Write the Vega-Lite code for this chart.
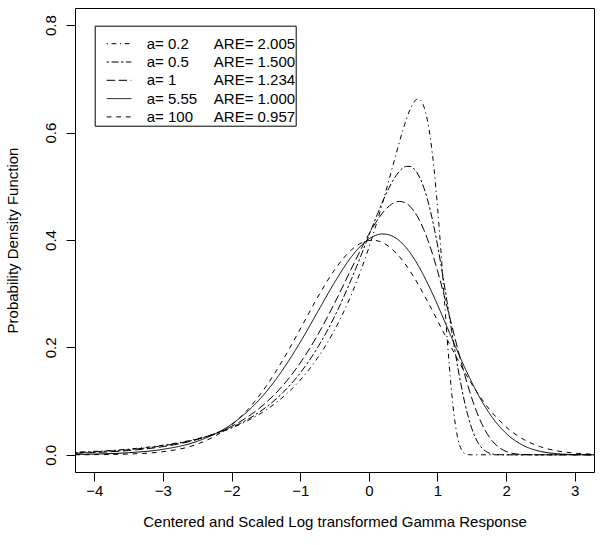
{
  "$schema": "https://vega.github.io/schema/vega-lite/v6.json",
  "width": 519,
  "height": 464,
  "autosize": {"type": "none"},
  "padding": {"left": 75, "top": 8, "right": 6, "bottom": 73},
  "background": "white",
  "config": {
    "view": {"stroke": "black", "strokeWidth": 1},
    "font": "Liberation Sans",
    "axis": {"grid": false, "domain": false, "tickColor": "black", "tickWidth": 1, "tickSize": 9, "labelColor": "black", "labelFontSize": 15, "titleColor": "black", "titleFontSize": 15, "titleFontWeight": "normal", "labelFlush": false, "labelOverlap": false}
  },
  "data": {
    "values": [
      {"a": "0.2", "x": -4.28, "y": 0.0048}, {"a": "0.2", "x": -4, "y": 0.0064}, {"a": "0.2", "x": -3.5, "y": 0.0107}, {"a": "0.2", "x": -3, "y": 0.0179}, {"a": "0.2", "x": -2.5, "y": 0.0299}, {"a": "0.2", "x": -2, "y": 0.0499}, {"a": "0.2", "x": -1.75, "y": 0.0645}, {"a": "0.2", "x": -1.5, "y": 0.0833}, {"a": "0.2", "x": -1.25, "y": 0.1076}, {"a": "0.2", "x": -1, "y": 0.1391}, {"a": "0.2", "x": -0.75, "y": 0.1797}, {"a": "0.2", "x": -0.5, "y": 0.2321}, {"a": "0.2", "x": -0.25, "y": 0.2996}, {"a": "0.2", "x": 0, "y": 0.3857}, {"a": "0.2", "x": 0.1, "y": 0.4258}, {"a": "0.2", "x": 0.2, "y": 0.4692}, {"a": "0.2", "x": 0.3, "y": 0.5149}, {"a": "0.2", "x": 0.4, "y": 0.5616}, {"a": "0.2", "x": 0.5, "y": 0.6061}, {"a": "0.2", "x": 0.6, "y": 0.6428}, {"a": "0.2", "x": 0.65, "y": 0.6553}, {"a": "0.2", "x": 0.7, "y": 0.6619}, {"a": "0.2", "x": 0.75, "y": 0.6606}, {"a": "0.2", "x": 0.8, "y": 0.6491}, {"a": "0.2", "x": 0.85, "y": 0.6251}, {"a": "0.2", "x": 0.9, "y": 0.5865}, {"a": "0.2", "x": 0.95, "y": 0.5322}, {"a": "0.2", "x": 1.0, "y": 0.4624}, {"a": "0.2", "x": 1.05, "y": 0.3798}, {"a": "0.2", "x": 1.1, "y": 0.2902}, {"a": "0.2", "x": 1.15, "y": 0.2020}, {"a": "0.2", "x": 1.2, "y": 0.1245}, {"a": "0.2", "x": 1.25, "y": 0.0657}, {"a": "0.2", "x": 1.3, "y": 0.0283}, {"a": "0.2", "x": 1.35, "y": 0.0094}, {"a": "0.2", "x": 1.4, "y": 0.0022}, {"a": "0.2", "x": 1.45, "y": 0.0003}, {"a": "0.2", "x": 1.5, "y": 0.0}, {"a": "0.2", "x": 1.6, "y": 0.0}, {"a": "0.2", "x": 2.0, "y": 0.0}, {"a": "0.2", "x": 2.5, "y": 0.0}, {"a": "0.2", "x": 3.0, "y": 0.0}, {"a": "0.2", "x": 3.28, "y": 0.0},

      {"a": "0.5", "x": -4.28, "y": 0.0040}, {"a": "0.5", "x": -4, "y": 0.0055}, {"a": "0.5", "x": -3.5, "y": 0.0096}, {"a": "0.5", "x": -3, "y": 0.0168}, {"a": "0.5", "x": -2.5, "y": 0.0292}, {"a": "0.5", "x": -2, "y": 0.0508}, {"a": "0.5", "x": -1.75, "y": 0.0670}, {"a": "0.5", "x": -1.5, "y": 0.0883}, {"a": "0.5", "x": -1.25, "y": 0.1161}, {"a": "0.5", "x": -1, "y": 0.1523}, {"a": "0.5", "x": -0.75, "y": 0.1988}, {"a": "0.5", "x": -0.5, "y": 0.2573}, {"a": "0.5", "x": -0.25, "y": 0.3282}, {"a": "0.5", "x": 0, "y": 0.4081}, {"a": "0.5", "x": 0.1, "y": 0.4404}, {"a": "0.5", "x": 0.2, "y": 0.4711}, {"a": "0.5", "x": 0.3, "y": 0.4985}, {"a": "0.5", "x": 0.4, "y": 0.5205}, {"a": "0.5", "x": 0.5, "y": 0.5343}, {"a": "0.5", "x": 0.55, "y": 0.5372}, {"a": "0.5", "x": 0.6, "y": 0.5370}, {"a": "0.5", "x": 0.7, "y": 0.5257}, {"a": "0.5", "x": 0.8, "y": 0.4979}, {"a": "0.5", "x": 0.9, "y": 0.4526}, {"a": "0.5", "x": 1.0, "y": 0.3908}, {"a": "0.5", "x": 1.1, "y": 0.3165}, {"a": "0.5", "x": 1.2, "y": 0.2366}, {"a": "0.5", "x": 1.3, "y": 0.1600}, {"a": "0.5", "x": 1.4, "y": 0.0955}, {"a": "0.5", "x": 1.5, "y": 0.0488}, {"a": "0.5", "x": 1.6, "y": 0.0205}, {"a": "0.5", "x": 1.7, "y": 0.0068}, {"a": "0.5", "x": 1.8, "y": 0.0016}, {"a": "0.5", "x": 1.9, "y": 0.0003}, {"a": "0.5", "x": 2.0, "y": 0.0}, {"a": "0.5", "x": 2.5, "y": 0.0}, {"a": "0.5", "x": 3.0, "y": 0.0}, {"a": "0.5", "x": 3.28, "y": 0.0},

      {"a": "1", "x": -4.28, "y": 0.0030}, {"a": "1", "x": -4, "y": 0.0042}, {"a": "1", "x": -3.5, "y": 0.0080}, {"a": "1", "x": -3, "y": 0.0152}, {"a": "1", "x": -2.5, "y": 0.0285}, {"a": "1", "x": -2, "y": 0.0530}, {"a": "1", "x": -1.75, "y": 0.0719}, {"a": "1", "x": -1.5, "y": 0.0969}, {"a": "1", "x": -1.25, "y": 0.1294}, {"a": "1", "x": -1, "y": 0.1709}, {"a": "1", "x": -0.75, "y": 0.2221}, {"a": "1", "x": -0.5, "y": 0.2821}, {"a": "1", "x": -0.25, "y": 0.3477}, {"a": "1", "x": 0, "y": 0.4107}, {"a": "1", "x": 0.1, "y": 0.4324}, {"a": "1", "x": 0.2, "y": 0.4505}, {"a": "1", "x": 0.3, "y": 0.4637}, {"a": "1", "x": 0.4, "y": 0.4709}, {"a": "1", "x": 0.45, "y": 0.4718}, {"a": "1", "x": 0.5, "y": 0.4708}, {"a": "1", "x": 0.6, "y": 0.4626}, {"a": "1", "x": 0.7, "y": 0.4455}, {"a": "1", "x": 0.8, "y": 0.4195}, {"a": "1", "x": 0.9, "y": 0.3849}, {"a": "1", "x": 1.0, "y": 0.3429}, {"a": "1", "x": 1.1, "y": 0.2955}, {"a": "1", "x": 1.2, "y": 0.2452}, {"a": "1", "x": 1.3, "y": 0.1948}, {"a": "1", "x": 1.4, "y": 0.1474}, {"a": "1", "x": 1.5, "y": 0.1055}, {"a": "1", "x": 1.6, "y": 0.0709}, {"a": "1", "x": 1.7, "y": 0.0443}, {"a": "1", "x": 1.8, "y": 0.0255}, {"a": "1", "x": 1.9, "y": 0.0134}, {"a": "1", "x": 2.0, "y": 0.0063}, {"a": "1", "x": 2.1, "y": 0.0026}, {"a": "1", "x": 2.25, "y": 0.0006}, {"a": "1", "x": 2.5, "y": 0.0}, {"a": "1", "x": 3.0, "y": 0.0}, {"a": "1", "x": 3.28, "y": 0.0},

      {"a": "5.55", "x": -4.28, "y": 0.0008}, {"a": "5.55", "x": -4, "y": 0.0014}, {"a": "5.55", "x": -3.5, "y": 0.0039}, {"a": "5.55", "x": -3, "y": 0.0102}, {"a": "5.55", "x": -2.5, "y": 0.0251}, {"a": "5.55", "x": -2, "y": 0.0570}, {"a": "5.55", "x": -1.75, "y": 0.0827}, {"a": "5.55", "x": -1.5, "y": 0.1165}, {"a": "5.55", "x": -1.25, "y": 0.1591}, {"a": "5.55", "x": -1, "y": 0.2095}, {"a": "5.55", "x": -0.75, "y": 0.2652}, {"a": "5.55", "x": -0.5, "y": 0.3208}, {"a": "5.55", "x": -0.25, "y": 0.3693}, {"a": "5.55", "x": 0, "y": 0.4019}, {"a": "5.55", "x": 0.1, "y": 0.4087}, {"a": "5.55", "x": 0.2, "y": 0.4113}, {"a": "5.55", "x": 0.3, "y": 0.4094}, {"a": "5.55", "x": 0.4, "y": 0.4030}, {"a": "5.55", "x": 0.5, "y": 0.3919}, {"a": "5.55", "x": 0.6, "y": 0.3764}, {"a": "5.55", "x": 0.7, "y": 0.3568}, {"a": "5.55", "x": 0.8, "y": 0.3336}, {"a": "5.55", "x": 0.9, "y": 0.3076}, {"a": "5.55", "x": 1.0, "y": 0.2794}, {"a": "5.55", "x": 1.1, "y": 0.2498}, {"a": "5.55", "x": 1.2, "y": 0.2198}, {"a": "5.55", "x": 1.3, "y": 0.1901}, {"a": "5.55", "x": 1.4, "y": 0.1616}, {"a": "5.55", "x": 1.5, "y": 0.1348}, {"a": "5.55", "x": 1.6, "y": 0.1102}, {"a": "5.55", "x": 1.7, "y": 0.0884}, {"a": "5.55", "x": 1.8, "y": 0.0693}, {"a": "5.55", "x": 2.0, "y": 0.0399}, {"a": "5.55", "x": 2.25, "y": 0.0174}, {"a": "5.55", "x": 2.5, "y": 0.0064}, {"a": "5.55", "x": 2.75, "y": 0.0020}, {"a": "5.55", "x": 3.0, "y": 0.0005}, {"a": "5.55", "x": 3.28, "y": 0.0001},

      {"a": "100", "x": -4.28, "y": 0.0001}, {"a": "100", "x": -4, "y": 0.0003}, {"a": "100", "x": -3.5, "y": 0.0014}, {"a": "100", "x": -3, "y": 0.0058}, {"a": "100", "x": -2.5, "y": 0.0198}, {"a": "100", "x": -2, "y": 0.0555}, {"a": "100", "x": -1.75, "y": 0.0862}, {"a": "100", "x": -1.5, "y": 0.1269}, {"a": "100", "x": -1.25, "y": 0.1771}, {"a": "100", "x": -1, "y": 0.2340}, {"a": "100", "x": -0.75, "y": 0.2922}, {"a": "100", "x": -0.5, "y": 0.3442}, {"a": "100", "x": -0.25, "y": 0.3821}, {"a": "100", "x": -0.1, "y": 0.3951}, {"a": "100", "x": 0, "y": 0.3991}, {"a": "100", "x": 0.05, "y": 0.3996}, {"a": "100", "x": 0.1, "y": 0.3991}, {"a": "100", "x": 0.2, "y": 0.3951}, {"a": "100", "x": 0.3, "y": 0.3871}, {"a": "100", "x": 0.4, "y": 0.3755}, {"a": "100", "x": 0.5, "y": 0.3604}, {"a": "100", "x": 0.6, "y": 0.3423}, {"a": "100", "x": 0.7, "y": 0.3216}, {"a": "100", "x": 0.8, "y": 0.2990}, {"a": "100", "x": 0.9, "y": 0.2750}, {"a": "100", "x": 1.0, "y": 0.2502}, {"a": "100", "x": 1.1, "y": 0.2251}, {"a": "100", "x": 1.2, "y": 0.2003}, {"a": "100", "x": 1.3, "y": 0.1762}, {"a": "100", "x": 1.4, "y": 0.1532}, {"a": "100", "x": 1.5, "y": 0.1317}, {"a": "100", "x": 1.6, "y": 0.1120}, {"a": "100", "x": 1.7, "y": 0.0940}, {"a": "100", "x": 1.8, "y": 0.0781}, {"a": "100", "x": 2.0, "y": 0.0519}, {"a": "100", "x": 2.25, "y": 0.0291}, {"a": "100", "x": 2.5, "y": 0.0150}, {"a": "100", "x": 2.75, "y": 0.0072}, {"a": "100", "x": 3.0, "y": 0.0032}, {"a": "100", "x": 3.28, "y": 0.0011}
    ]
  },
  "mark": {"type": "line", "interpolate": "monotone", "color": "black", "strokeWidth": 1, "clip": true},
  "encoding": {
    "x": {
      "field": "x", "type": "quantitative",
      "scale": {"domain": [-4.28, 3.28], "nice": false, "zero": false},
      "axis": {"values": [-4, -3, -2, -1, 0, 1, 2, 3], "labelBaseline": "alphabetic", "labelPadding": 14, "title": "Centered and Scaled Log transformed Gamma Response", "titleBaseline": "alphabetic", "titleY": 54}
    },
    "y": {
      "field": "y", "type": "quantitative",
      "scale": {"domain": [-0.032, 0.832], "nice": false, "zero": false},
      "axis": {"values": [0, 0.2, 0.4, 0.6, 0.8], "format": ".1f", "labelAngle": 270, "labelAlign": "center", "labelBaseline": "alphabetic", "labelPadding": 11, "title": "Probability Density Function", "titleAngle": 270, "titleAlign": "center", "titleBaseline": "alphabetic", "titleX": -58, "titleY": 232}
    },
    "strokeDash": {
      "field": "a", "type": "nominal",
      "scale": {"domain": ["0.2", "0.5", "1", "5.55", "100"], "range": [[1.2, 3.6, 4.8, 3.6], [2.4, 2.4, 7.2, 2.4], [8.4, 3.6], [1, 0], [4.8, 4.8]]},
      "legend": {
        "orient": "none", "legendX": 19.7, "legendY": 17.7,
        "title": "\u00a0", "titleFontSize": 9, "titlePadding": 0,
        "strokeColor": "black", "padding": 0,
        "symbolType": "M-1.45,0H1.45", "symbolSize": 289, "symbolStrokeWidth": 1, "symbolStrokeColor": "black",
        "symbolOffset": 15.3, "labelOffset": 18.7, "rowPadding": 1.3,
        "labelFontSize": 15, "labelColor": "black", "labelLimit": 400,
        "labelExpr": "datum.label == '0.2' ? 'a= 0.2\u00a0\u00a0\u00a0\u00a0\u00a0\u00a0ARE= 2.005\u00a0' : datum.label == '0.5' ? 'a= 0.5\u00a0\u00a0\u00a0\u00a0\u00a0\u00a0ARE= 1.500\u00a0' : datum.label == '1' ? 'a= 1\u00a0\u00a0\u00a0\u00a0\u00a0\u00a0\u00a0\u00a0\u00a0ARE= 1.234\u00a0' : datum.label == '5.55' ? 'a= 5.55\u00a0\u00a0\u00a0\u00a0ARE= 1.000\u00a0' : 'a= 100\u00a0\u00a0\u00a0\u00a0\u00a0ARE= 0.957\u00a0'"
      }
    }
  }
}
